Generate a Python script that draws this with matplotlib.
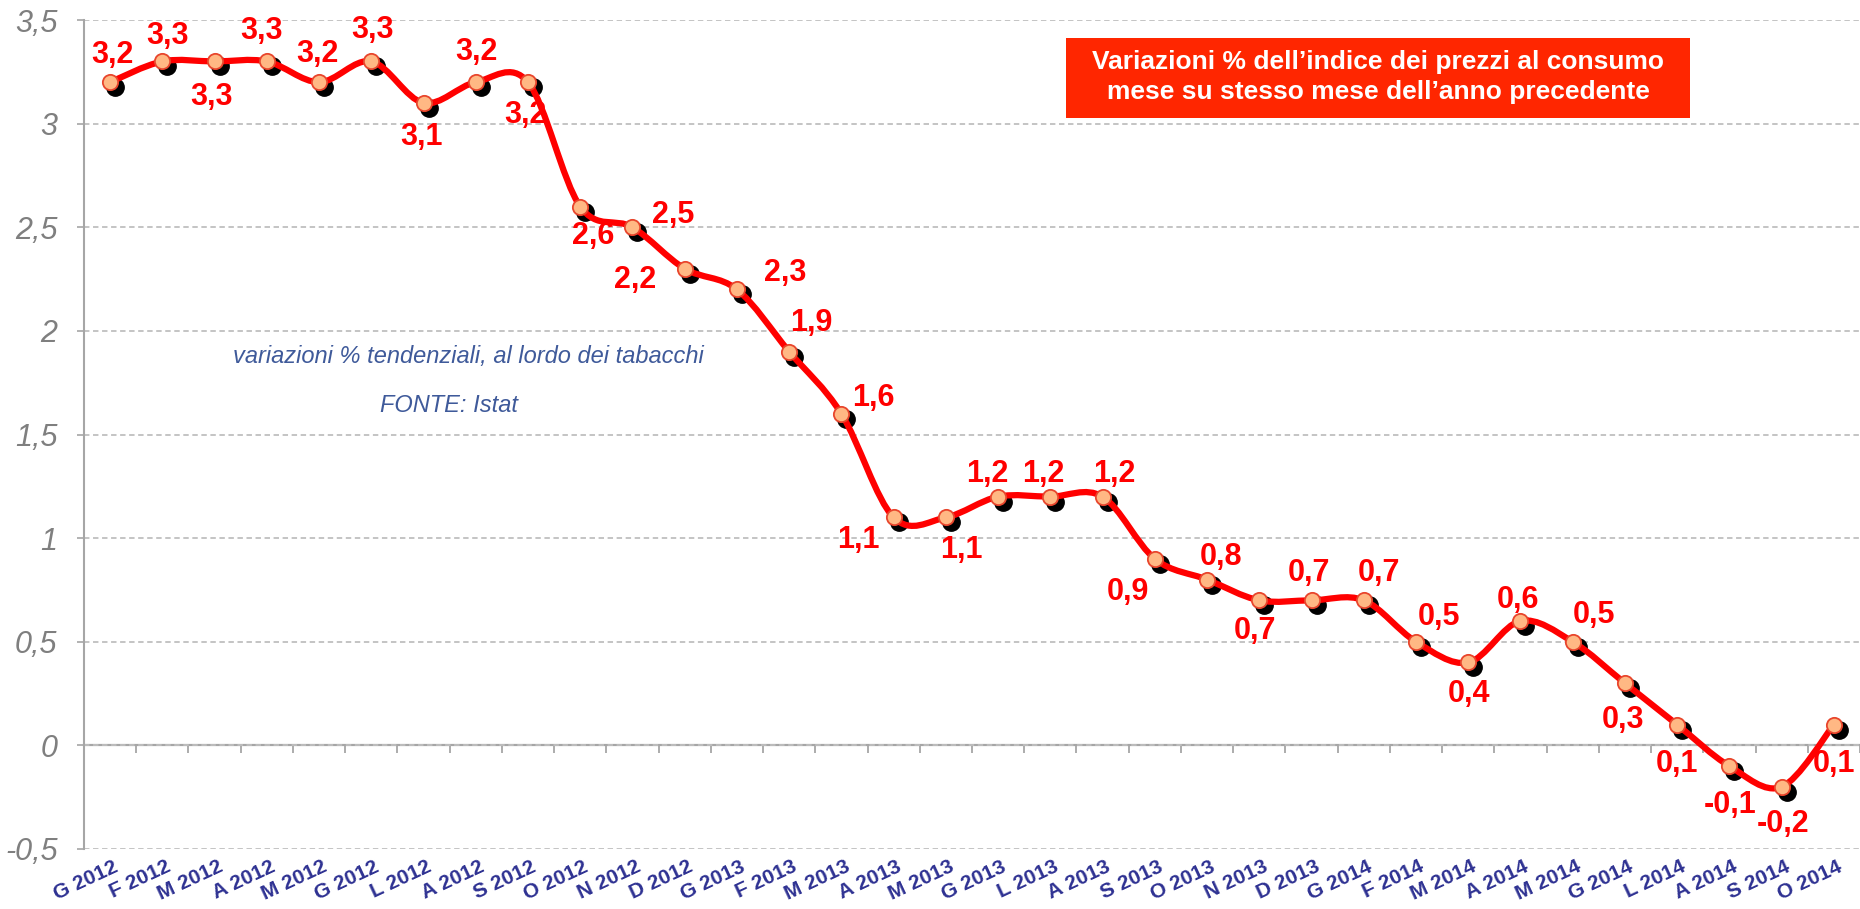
import numpy as np
import matplotlib.pyplot as plt
from matplotlib.path import Path
from matplotlib.patches import PathPatch, Rectangle
from matplotlib import transforms

plt.rcParams['font.family'] = ['Liberation Sans', 'DejaVu Sans']

# dati
mesi = ['G','F','M','A','M','G','L','A','S','O','N','D']*2 + ['G','F','M','A','M','G','L','A','S','O']
anni = ['2012']*12 + ['2013']*12 + ['2014']*10
etichette = [m + ' ' + a for m, a in zip(mesi, anni)]
valori = [3.2,3.3,3.3,3.3,3.2,3.3,3.1,3.2,3.2,2.6,2.5,2.3,2.2,1.9,1.6,1.1,1.1,
          1.2,1.2,1.2,0.9,0.8,0.7,0.7,0.7,0.5,0.4,0.6,0.5,0.3,0.1,-0.1,-0.2,0.1]
yticks = [-0.5,0,0.5,1,1.5,2,2.5,3,3.5]
titolo = "Variazioni % dell\u2019indice dei prezzi al consumo\nmese su stesso mese dell\u2019anno precedente"
nota1 = "variazioni % tendenziali, al lordo dei tabacchi"
nota2 = "FONTE: Istat"

# spostamento etichette dati (pixel, y verso l'alto)
dx = [2,5,-3,-5,-2,1,-2,1,-3,13,41,100,-102,22,32,-35,15,-11,-7,12,-27,14,-4,-3,15,23,1,-2,21,-2,0,1,1,0]
dy = [27,25,-36,30,28,31,-34,30,-33,-29,12,-4,9,29,16,-23,-33,23,23,23,-33,23,-31,27,27,25,-32,21,27,-37,-39,-39,-37,-39]

def fmt(v):
    return f'{v:g}'.replace('.', ',')

fig = plt.figure(figsize=(18.6, 9.09), dpi=100)
ax = fig.add_axes([84/1860, 1-849/909, 1-84/1860, (849-20)/909])

x = np.arange(len(valori))
y = np.array(valori, dtype=float)
ymin, ymax = -0.5, 3.5
ax.set_xlim(-0.5, len(valori)-0.5)
ax.set_ylim(ymin, ymax)

# griglia
ax.set_yticks(yticks)
ax.set_yticklabels([fmt(v) for v in yticks], fontsize=22, style='italic', color='#7F7F7F')
ax.yaxis.grid(True, linestyle=(0, (3, 2)), color='#BFBFBF', linewidth=1.3)
ax.set_axisbelow(True)
for s in ['top', 'right', 'bottom']:
    ax.spines[s].set_visible(False)
ax.spines['left'].set_color('#A6A6A6')
ax.spines['left'].set_linewidth(1.5)
ax.tick_params(axis='y', length=5, color='#A6A6A6', width=1.2, pad=14)

# etichette asse x
ax.set_xticks(x)
ax.set_xticklabels(etichette, rotation=25, ha='right', rotation_mode='anchor',
                   fontsize=15, fontweight='bold', color='#2E3192')
ax.tick_params(axis='x', length=0, pad=6)
sh = transforms.ScaledTranslation(3/100, 0, fig.dpi_scale_trans)
for t in ax.get_xticklabels():
    t.set_transform(t.get_transform() + sh)

# asse orizzontale sullo zero
sec = ax.secondary_xaxis((0 - ymin)/(ymax - ymin))
sec.set_xticks(np.arange(-0.5, len(valori), 1.0))
sec.set_xticklabels([])
sec.tick_params(axis='x', direction='out', length=6, color='#A6A6A6', width=1.3)
sec.spines['bottom'].set_color('#A6A6A6')
sec.spines['bottom'].set_linewidth(1.6)
sec.spines['top'].set_visible(False)

# linea smussata (bezier)
pts = np.column_stack([x, y])
verts = [pts[0]]
codes = [Path.MOVETO]
n = len(pts)
for i in range(n-1):
    p0 = pts[i-1] if i > 0 else pts[i]
    p3 = pts[i+2] if i+2 < n else pts[i+1]
    c1 = pts[i] + (pts[i+1] - p0)/6
    c2 = pts[i+1] - (p3 - pts[i])/6
    verts += [c1, c2, pts[i+1]]
    codes += [Path.CURVE4]*3
ax.add_patch(PathPatch(Path(verts, codes), fill=False, edgecolor='#FF0000', linewidth=4.5, zorder=4, capstyle='round'))

# ombra e marcatori
ombra = transforms.offset_copy(ax.transData, fig=fig, x=5, y=-5, units='dots')
ax.plot(x, y, 'o', color='black', markersize=12.5, transform=ombra, zorder=3)
ax.plot(x, y, 'o', markerfacecolor='#FFB884', markeredgecolor='#E8452C', markersize=11, markeredgewidth=1.3, zorder=5)

# etichette dati
for i, v in enumerate(valori):
    ax.annotate(fmt(v), (x[i], v), xytext=(dx[i], dy[i]), textcoords='offset pixels',
                ha='center', va='center', fontsize=22, fontweight='bold', color='#FF0000', zorder=6)

# riquadro titolo
fig.patches.append(Rectangle((1066/1860, 1-118/909), 624/1860, 80/909, transform=fig.transFigure,
                             facecolor='#FF2600', edgecolor='none', zorder=5))
fig.text(1378/1860, 1-77/909, titolo, ha='center', va='center', color='white',
         fontsize=19, fontweight='bold', linespacing=1.35, zorder=6)

# note
fig.text(468/1860, 1-357/909, nota1, ha='center', va='center', style='italic', fontsize=17, color='#3F5A9A')
fig.text(449/1860, 1-406/909, nota2, ha='center', va='center', style='italic', fontsize=17, color='#3F5A9A')

fig.savefig('out.png', dpi=100)
